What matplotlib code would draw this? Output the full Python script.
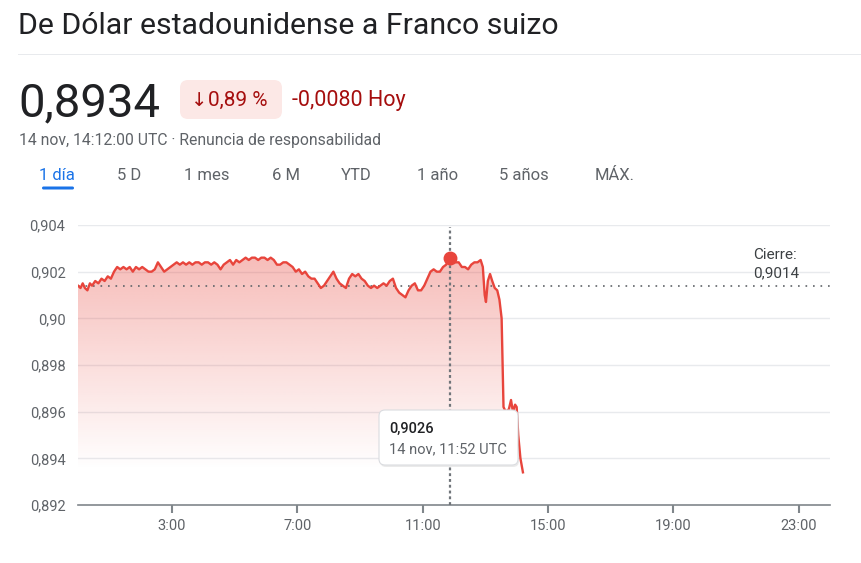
import numpy as np
import matplotlib
matplotlib.use("Agg")
import matplotlib.pyplot as plt
from matplotlib.patches import FancyBboxPatch, Rectangle
from matplotlib.transforms import IdentityTransform

plt.rcParams['font.family'] = ['Roboto', 'DejaVu Sans']

# hours (UTC) and USD/CHF rate
hours = [0.00, 0.08, 0.15, 0.22, 0.30, 0.38, 0.45, 0.55, 0.65, 0.75, 0.85, 0.95,
         1.05, 1.15, 1.25, 1.35, 1.45, 1.55, 1.65, 1.75, 1.85, 1.95, 2.05, 2.15,
         2.25, 2.35, 2.45, 2.55, 2.65, 2.75, 2.85, 2.95, 3.05, 3.15, 3.25, 3.35,
         3.45, 3.55, 3.65, 3.75, 3.85, 3.95, 4.05, 4.15, 4.25, 4.35, 4.45, 4.55,
         4.65, 4.75, 4.85, 4.95, 5.05, 5.15, 5.25, 5.35, 5.45, 5.55, 5.65, 5.75,
         5.85, 5.95, 6.05, 6.15, 6.25, 6.35, 6.45, 6.55, 6.65, 6.75, 6.85, 6.95,
         7.05, 7.15, 7.25, 7.35, 7.45, 7.55, 7.65, 7.75, 7.85, 7.95, 8.05, 8.15,
         8.25, 8.35, 8.45, 8.55, 8.65, 8.75, 8.85, 8.95, 9.05, 9.15, 9.25, 9.35,
         9.45, 9.55, 9.65, 9.75, 9.85, 9.95, 10.05, 10.15, 10.25, 10.35, 10.45,
         10.55, 10.65, 10.75, 10.85, 10.95, 11.05, 11.15, 11.25, 11.35, 11.45,
         11.55, 11.65, 11.75, 11.87, 11.95, 12.05, 12.15, 12.25, 12.35, 12.45,
         12.55, 12.65, 12.75, 12.85, 12.92, 12.98, 13.02, 13.08, 13.15, 13.22,
         13.30, 13.38, 13.45, 13.52, 13.58, 13.65, 13.75, 13.82, 13.88, 13.95,
         14.00, 14.05, 14.12, 14.20]
rate = [0.9014, 0.9013, 0.9015, 0.9013, 0.9012, 0.9015, 0.9014, 0.9016, 0.9015,
        0.9017, 0.9016, 0.9018, 0.9017, 0.9020, 0.9022, 0.9021, 0.9022, 0.9021,
        0.9022, 0.9020, 0.9022, 0.9021, 0.9022, 0.9021, 0.9020, 0.9020, 0.9021,
        0.9024, 0.9022, 0.9020, 0.9021, 0.9022, 0.9023, 0.9024, 0.9023, 0.9024,
        0.9023, 0.9024, 0.9023, 0.9024, 0.9024, 0.9023, 0.9024, 0.9024, 0.9023,
        0.9024, 0.9023, 0.9021, 0.9023, 0.9024, 0.9025, 0.9023, 0.9025, 0.9024,
        0.9025, 0.9026, 0.9025, 0.9026, 0.9026, 0.9025, 0.9026, 0.9026, 0.9025,
        0.9026, 0.9025, 0.9023, 0.9023, 0.9024, 0.9024, 0.9023, 0.9022, 0.9020,
        0.9021, 0.9019, 0.9020, 0.9018, 0.9017, 0.9017, 0.9015, 0.9013, 0.9014,
        0.9016, 0.9018, 0.9020, 0.9017, 0.9015, 0.9014, 0.9013, 0.9017, 0.9019,
        0.9018, 0.9019, 0.9017, 0.9016, 0.9014, 0.9013, 0.9014, 0.9013, 0.9014,
        0.9015, 0.9014, 0.9016, 0.9017, 0.9013, 0.9011, 0.9010, 0.9009, 0.9012,
        0.9014, 0.9015, 0.9012, 0.9012, 0.9014, 0.9017, 0.9020, 0.9021, 0.9020,
        0.9020, 0.9022, 0.9023, 0.9026, 0.9025, 0.9024, 0.9024, 0.9022, 0.9022,
        0.9021, 0.9023, 0.9024, 0.9024, 0.9025, 0.9022, 0.9010, 0.9007, 0.9016,
        0.9019, 0.9016, 0.9013, 0.9012, 0.9008, 0.9000, 0.8962, 0.8960, 0.8961,
        0.8965, 0.8960, 0.8963, 0.8962, 0.8950, 0.8940, 0.8934]

close_value = 0.9014
hover_time = 11.87
hover_value = 0.9026

x_ticks = [3, 7, 11, 15, 19, 23]
x_labels = ['3:00', '7:00', '11:00', '15:00', '19:00', '23:00']
y_ticks = [0.892, 0.894, 0.896, 0.898, 0.900, 0.902, 0.904]
y_labels = ['0,892', '0,894', '0,896', '0,898', '0,90', '0,902', '0,904']

tabs = ['1 día', '5 D', '1 mes', '6 M', 'YTD', '1 año', '5 años', 'MÁX.']
tab_x = [39, 117, 184, 272, 341, 417, 499, 595]

W, H = 862, 563
RED = '#e8453c'
GRAY = '#5f6368'
DARK = '#202124'

fig = plt.figure(figsize=(W / 100, H / 100), dpi=100)


def ftext(x, y, s, **kw):
    # x, y in pixels from the top-left corner
    fig.text(x / W, 1 - y / H, s, **kw)


# header
ftext(18, 34, 'De Dólar estadounidense a Franco suizo', fontsize=21.8,
      color=DARK, va='baseline')
fig.add_artist(Rectangle((18, H - 55), W - 18, 1, transform=IdentityTransform(),
                         facecolor='#e8eaed', edgecolor='none'))
ftext(18, 116, '0,8934', fontsize=34, color=DARK, va='baseline')
fig.add_artist(FancyBboxPatch((180, H - 119), 102, 39,
                              boxstyle='round,pad=0,rounding_size=8',
                              transform=IdentityTransform(),
                              facecolor='#fce8e6', edgecolor='none'))
ftext(191, 106, '↓', fontsize=14, color='#a50e0e', va='baseline',
      family=['DejaVu Sans'])
ftext(208, 106, '0,89 %', fontsize=15, color='#a50e0e', va='baseline')
ftext(292, 106, '-0,0080 Hoy', fontsize=15.5, color='#a50e0e', va='baseline')
ftext(19, 145, '14 nov, 14:12:00 UTC · Renuncia de responsabilidad',
      fontsize=11.3, color=GRAY, va='baseline')

for i, (label, x) in enumerate(zip(tabs, tab_x)):
    ftext(x, 180, label, fontsize=12, va='baseline',
          color='#1a73e8' if i == 0 else GRAY)
fig.add_artist(FancyBboxPatch((42, H - 189.5), 32, 3,
                              boxstyle='round,pad=0,rounding_size=1.5',
                              transform=IdentityTransform(),
                              facecolor='#1a73e8', edgecolor='none'))

# chart
ax = fig.add_axes([78 / W, (H - 505) / H, (830 - 78) / W, (505 - 225) / H])

t = np.array(hours)
v = np.array(rate)

fill = ax.fill_between(t, v, 0.892, color='none', linewidth=0)
grad = np.zeros((256, 1, 4))
grad[..., :3] = matplotlib.colors.to_rgb(RED)
grad[:, 0, 3] = np.linspace(0.36, 0.0, 256)
im = ax.imshow(grad, extent=[0, t[-1], 0.8935, 0.9027], aspect='auto',
               origin='upper', zorder=1, interpolation='bilinear')
im.set_clip_path(fill.get_paths()[0], transform=ax.transData)
ax.set_xlim(0, 24)
ax.set_ylim(0.892, 0.904)

for y in y_ticks[1:]:
    ax.axhline(y, color='#e8eaed', linewidth=1, zorder=0)

ax.plot(t, v, color=RED, linewidth=1.7, zorder=3)
ax.axhline(close_value, color=GRAY, linewidth=1.2, linestyle=(0, (1, 3.5)),
           zorder=2)
ax.plot([hover_time, hover_time], [0.892, 0.9039], color='#70757a',
        linewidth=1.6, linestyle=(0, (1.3, 1.3)), zorder=4)
ax.plot(hover_time, hover_value, 'o', color=RED, markersize=9, zorder=5)

ax.text(21.55, 0.90255, 'Cierre:', fontsize=11, color='#3c4043', va='baseline')
ax.text(21.55, 0.90177, '0,9014', fontsize=11, color='#3c4043', va='baseline')

ax.set_xticks(x_ticks)
ax.set_xticklabels(x_labels)
ax.set_yticks(y_ticks)
ax.set_yticklabels(y_labels)
ax.tick_params(axis='x', length=6, width=1.5, color='#80868b', labelsize=10.5,
               labelcolor=GRAY, pad=4)
ax.tick_params(axis='y', length=0, labelsize=10.5, labelcolor=GRAY, pad=9)
for side in ['top', 'right', 'left']:
    ax.spines[side].set_visible(False)
ax.spines['bottom'].set_color('#80868b')
ax.spines['bottom'].set_linewidth(1.2)

# tooltip
fig.add_artist(FancyBboxPatch((380, H - 467), 139, 55,
                              boxstyle='round,pad=0,rounding_size=6',
                              transform=IdentityTransform(),
                              facecolor='#000000', alpha=0.08,
                              edgecolor='none', zorder=6))
fig.add_artist(FancyBboxPatch((379, H - 465), 139, 55,
                              boxstyle='round,pad=0,rounding_size=6',
                              transform=IdentityTransform(),
                              facecolor='white', edgecolor='#dadce0',
                              linewidth=0.8, zorder=7))
ftext(389, 433, '0,9026', fontsize=10.5, color=DARK, va='baseline',
      weight='medium', zorder=8)
ftext(389, 453, '14 nov, 11:52 UTC', fontsize=10.5, color=GRAY,
      va='baseline', zorder=8)

fig.savefig('out.png', dpi=100)
